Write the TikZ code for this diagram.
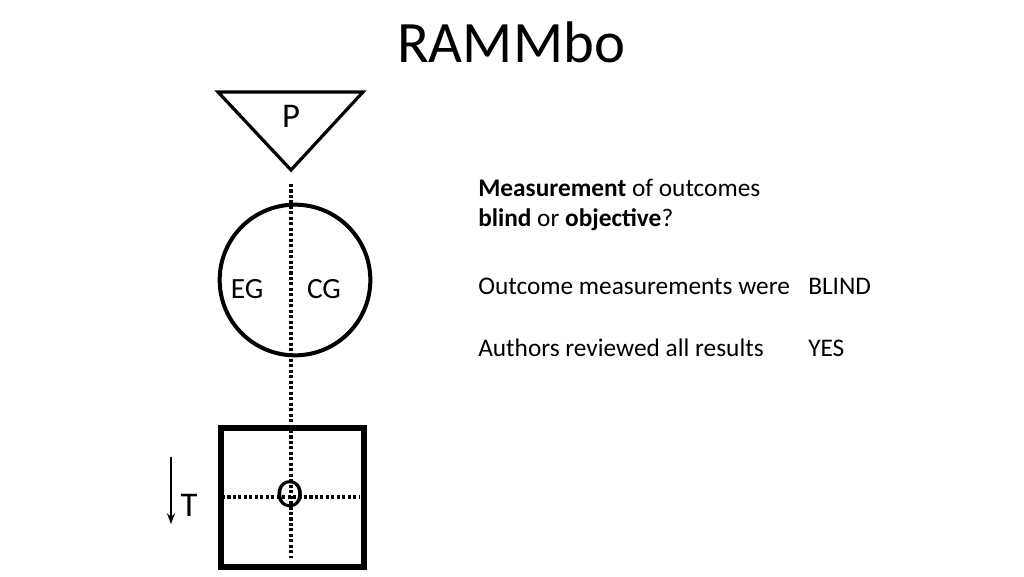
\documentclass[tikz,border=0pt]{standalone}
\usepackage{fontspec}
\setmainfont{Carlito}
\usetikzlibrary{arrows.meta}
\begin{document}
\begin{tikzpicture}[x=0.75pt,y=-0.75pt,
  shapeline/.style={line width=2.4pt, line join=miter},
  dotline/.style={line width=2.6pt, dash pattern=on 2.3pt off 1.8pt},
  lbl/.style={inner sep=0pt, font=\fontsize{22}{26}\selectfont},
  txt/.style={inner sep=0pt, anchor=base west, font=\fontsize{19}{23}\selectfont}]
\useasboundingbox (0,0) rectangle (1024,576);
% title
\node[inner sep=0pt, font=\fontsize{44}{50}\selectfont] (title) at (511,42) {RAMMbo};
% triangle P
\coordinate (tl) at (218,92);
\coordinate (tr) at (363,92);
\coordinate (ta) at (291,170);
\draw[shapeline] (tl) -- (tr) -- (ta) -- cycle;
\node[inner sep=0pt, font=\fontsize{26}{30}\selectfont] (p) at (291,116) {P};
% circle
\node[draw, circle, line width=3pt, minimum size=113pt, inner sep=0pt] (grp) at (295,280) {};
\node[lbl] (eg) at (247,289) {EG};
\node[lbl] (cg) at (324,289) {CG};
% square
\node[draw, rectangle, line width=4.5pt, minimum width=107.25pt, minimum height=104.25pt, inner sep=0pt] (obs) at (292.5,497.5) {};
% dotted lines
\coordinate (dtop) at (291,184);
\coordinate (dbot) at (291,558);
\coordinate (hl) at (222,497);
\coordinate (hr) at (360,497);
\draw[dotline] (dtop) -- (dbot);
\draw[dotline] (hl) -- (hr);
\node[inner sep=0pt, font=\fontsize{31}{35}\selectfont] (o) at (290,494) {O};
% time arrow
\coordinate (ttop) at (171,457);
\coordinate (tbot) at (171,524);
\draw[line width=1.3pt, -{Stealth[length=8pt,width=6pt]}] (ttop) -- (tbot);
\node[inner sep=0pt, font=\fontsize{26}{30}\selectfont] (t) at (189,505) {T};
% right text
\node[txt] (q1) at (478,196) {\textbf{Measurement} of outcomes};
\node[txt] (q2) at (478,226) {\textbf{blind} or \textbf{objective}?};
\node[txt] (a1) at (478,294) {Outcome measurements were};
\node[txt] (b1) at (808,294) {BLIND};
\node[txt] (a2) at (478,356) {Authors reviewed all results};
\node[txt] (b2) at (808,356) {YES};
\end{tikzpicture}
\end{document}
